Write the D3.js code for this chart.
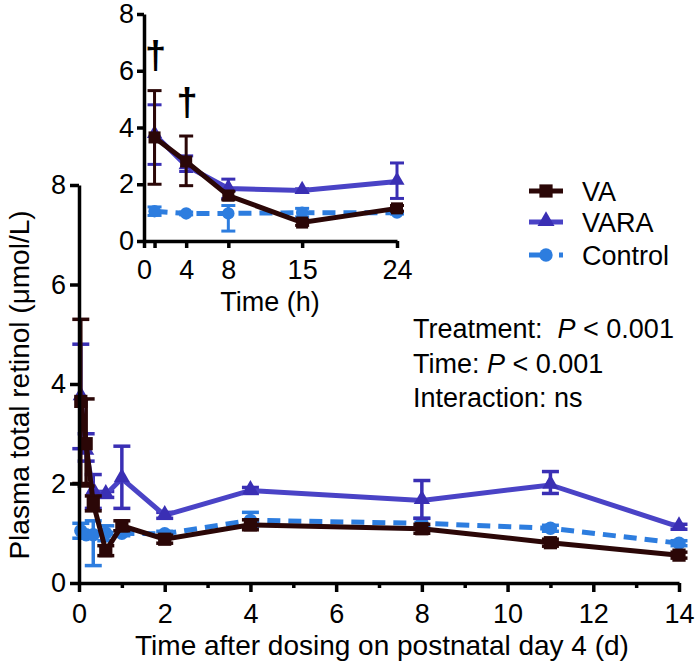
<!DOCTYPE html>
<html>
<head>
<meta charset="utf-8">
<script src="https://cdn.jsdelivr.net/npm/d3@7"></script>
<style>
  html, body { margin: 0; padding: 0; background: #fff; }
  svg { display: block; }
  text { font-family: "Liberation Sans", Arial, Helvetica, sans-serif; fill: #000; }
</style>
</head>
<body>
<svg id="chart" width="697" height="670"></svg>
<script>
// ---- data ----
const timeDays  = [0.042, 0.167, 0.333, 0.625, 1, 2, 4, 8, 11, 14];
const timeHours = [1, 4, 8, 15, 24];          // first five points, in hours (inset)
const vaMean    = [3.65, 2.8, 1.6, 0.65, 1.15, 0.88, 1.17, 1.09, 0.81, 0.56];
const vaLo      = [2.0, 1.95, 1.45, 0.55, 1.05, 0.80, 1.07, 1.00, 0.74, 0.50];
const vaHi      = [5.3, 3.7, 1.75, 0.75, 1.25, 0.96, 1.27, 1.18, 0.88, 0.62];
const varaMean  = [3.75, 2.65, 1.85, 1.78, 2.1, 1.36, 1.86, 1.66, 1.97, 1.13];
const varaLo    = [2.7, 2.45, 1.5, 1.72, 1.5, 1.30, 1.80, 1.30, 1.80, 1.08];
const varaHi    = [4.8, 3.0, 2.18, 1.84, 2.75, 1.42, 1.92, 2.06, 2.24, 1.18];
const ctrlMean  = [1.05, 0.97, 0.97, 1.0, 1.0, 0.99, 1.26, 1.2, 1.1, 0.8];
const ctrlLo    = [0.9, 0.92, 0.35, 0.85, 0.95, 0.94, 1.10, 1.12, 1.04, 0.75];
const ctrlHi    = [1.2, 1.02, 1.25, 1.15, 1.05, 1.04, 1.42, 1.30, 1.16, 0.85];
const seriesNames = ["VA", "VARA", "Control"];
const mainXTicks = [0, 2, 4, 6, 8, 10, 12, 14];
const mainXMinor = [1, 3, 5, 7, 9, 11, 13];
const mainYTicks = [0, 2, 4, 6, 8];
const insetXTicks = [0, 1, 4, 8, 15, 24];
const insetXLabels = ["0", "", "4", "8", "15", "24"];
const insetYTicks = [0, 2, 4, 6, 8];
const daggerHours = [1, 4];
const daggerValues = [6.1, 4.45];
const statLines = [
  ["Treatment:  ", "P", " < 0.001"],
  ["Time: ", "P", " < 0.001"],
  ["Interaction: ns", "", ""]
];

// ---- style ----
const colors = { VA: "#2b0707", VARA: "#4a43c6", Control: "#2d7ddf" };
const markerColors = { VA: "#2b0707", VARA: "#3a2fb4", Control: "#2d7ddf" };
const FONT = 27;

const svg = d3.select("#chart");

const series = [
  { name: "Control", mean: ctrlMean, lo: ctrlLo, hi: ctrlHi, shape: d3.symbolCircle, dash: "13,8" },
  { name: "VARA", mean: varaMean, lo: varaLo, hi: varaHi, shape: d3.symbolTriangle, dash: null },
  { name: "VA", mean: vaMean, lo: vaLo, hi: vaHi, shape: d3.symbolSquare, dash: null }
];

function drawPanel(g, xs, ys, times, n, opts) {
  series.forEach(s => {
    const pts = d3.range(n).map(i => ({ t: times[i], m: s.mean[i], lo: s.lo[i], hi: s.hi[i] }));
    const sg = g.append("g");
    // error bars
    pts.forEach(p => {
      const cx = xs(p.t);
      sg.append("line").attr("x1", cx).attr("x2", cx).attr("y1", ys(p.lo)).attr("y2", ys(p.hi))
        .attr("stroke", markerColors[s.name]).attr("stroke-width", opts.ebw);
      [p.lo, p.hi].forEach(v => {
        sg.append("line").attr("x1", cx - opts.cap / 2).attr("x2", cx + opts.cap / 2)
          .attr("y1", ys(v)).attr("y2", ys(v))
          .attr("stroke", markerColors[s.name]).attr("stroke-width", opts.ebw);
      });
    });
    // line
    sg.append("path").datum(pts)
      .attr("d", d3.line().x(p => xs(p.t)).y(p => ys(p.m)))
      .attr("fill", "none").attr("stroke", colors[s.name]).attr("stroke-width", opts.lw)
      .attr("stroke-dasharray", s.dash);
    // markers
    const size = s.shape === d3.symbolSquare ? opts.sq : s.shape === d3.symbolTriangle ? opts.tri : opts.circ;
    sg.selectAll(null).data(pts).join("path")
      .attr("transform", p => `translate(${xs(p.t)},${ys(p.m) + (s.shape === d3.symbolTriangle ? -1 : 0)})`)
      .attr("d", d3.symbol().type(s.shape).size(size))
      .attr("fill", markerColors[s.name]);
  });
}

// ---- main chart ----
const x = d3.scaleLinear().domain([0, 14]).range([79, 679]);
const y = d3.scaleLinear().domain([0, 8]).range([583, 185]);

const main = svg.append("g");
drawPanel(main, x, y, timeDays, timeDays.length, { lw: 5, ebw: 3.5, cap: 17, sq: 175, tri: 115, circ: 140 });

const xAxis = main.append("g").attr("transform", `translate(0,${y(0)})`)
  .call(d3.axisBottom(x).tickValues(mainXTicks).tickSize(9).tickSizeOuter(0).tickPadding(12).tickFormat(d3.format("d")));
const xMinor = main.append("g").attr("transform", `translate(0,${y(0)})`)
  .call(d3.axisBottom(x).tickValues(mainXMinor).tickSize(5).tickSizeOuter(0).tickFormat(""));
xMinor.select(".domain").remove();
const yAxis = main.append("g").attr("transform", `translate(${x(0)},0)`)
  .call(d3.axisLeft(y).tickValues(mainYTicks).tickSize(9).tickSizeOuter(0).tickPadding(4).tickFormat(d3.format("d")));

[xAxis, xMinor, yAxis].forEach(a => {
  a.selectAll("path.domain").attr("stroke", "#000").attr("stroke-width", 3.5);
  a.selectAll(".tick line").attr("stroke", "#000").attr("stroke-width", 3.5);
  a.selectAll(".tick text").style("font-size", FONT + "px").style("font-family", "Liberation Sans, Arial, sans-serif").attr("fill", "#000");
});

svg.append("text").attr("x", 382).attr("y", 655).attr("text-anchor", "middle")
  .style("font-size", "28px").text("Time after dosing on postnatal day 4 (d)");
svg.append("text").attr("transform", "translate(29,385) rotate(-90)").attr("text-anchor", "middle")
  .style("font-size", "28px").text("Plasma total retinol (\u03bcmol/L)");

// ---- inset ----
const xi = d3.scaleLinear().domain([0, 24]).range([144, 397]);
const yi = d3.scaleLinear().domain([0, 8]).range([241, 14]);
const inset = svg.append("g");
drawPanel(inset, xi, yi, timeHours, timeHours.length, { lw: 5, ebw: 3, cap: 14, sq: 145, tri: 100, circ: 120 });

const ixAxis = inset.append("g").attr("transform", `translate(0,${yi(0)})`)
  .call(d3.axisBottom(xi).tickValues(insetXTicks).tickSize(7).tickSizeOuter(0).tickPadding(12)
    .tickFormat((d, i) => insetXLabels[i]));
const iyAxis = inset.append("g").attr("transform", `translate(${xi(0)},0)`)
  .call(d3.axisLeft(yi).tickValues(insetYTicks).tickSize(7).tickSizeOuter(0).tickPadding(3).tickFormat(d3.format("d")));
[ixAxis, iyAxis].forEach(a => {
  a.selectAll("path.domain").attr("stroke", "#000").attr("stroke-width", 3.5);
  a.selectAll(".tick line").attr("stroke", "#000").attr("stroke-width", 3.5);
  a.selectAll(".tick text").style("font-size", FONT + "px").style("font-family", "Liberation Sans, Arial, sans-serif").attr("fill", "#000");
});
svg.append("text").attr("x", 270).attr("y", 311).attr("text-anchor", "middle")
  .style("font-size", FONT + "px").text("Time (h)");

// daggers
daggerHours.forEach((h, i) => {
  svg.append("text").attr("x", xi(h) + 1).attr("y", yi(daggerValues[i])).attr("text-anchor", "middle")
    .style("font-size", "38px").style("font-weight", "bold").text("\u2020");
});

// ---- legend ----
const legendY = [191, 222, 255];
const legendOrder = ["VA", "VARA", "Control"];
const shapeOf = { VA: d3.symbolSquare, VARA: d3.symbolTriangle, Control: d3.symbolCircle };
const legSize = { VA: 175, VARA: 125, Control: 140 };
legendOrder.forEach((nm, i) => {
  const ly = legendY[i];
  svg.append("line").attr("x1", 529).attr("x2", 563).attr("y1", ly).attr("y2", ly)
    .attr("stroke", colors[nm]).attr("stroke-width", 5)
    .attr("stroke-dasharray", nm === "Control" ? "12,18,4" : null);
  svg.append("path").attr("transform", `translate(546,${ly + (nm === "VARA" ? -1 : 0)})`)
    .attr("d", d3.symbol().type(shapeOf[nm]).size(legSize[nm])).attr("fill", markerColors[nm]);
  svg.append("text").attr("x", 582).attr("y", ly).attr("dy", "0.36em")
    .style("font-size", FONT + "px").text(seriesNames[i]);
});

// ---- stats text ----
const statY = [338, 373, 407];
statLines.forEach((ln, i) => {
  const t = svg.append("text").attr("x", 413).attr("y", statY[i]).style("font-size", FONT + "px")
    .attr("xml:space", "preserve").style("white-space", "pre");
  t.append("tspan").text(ln[0]);
  if (ln[1]) t.append("tspan").style("font-style", "italic").text(ln[1]);
  if (ln[2]) t.append("tspan").text(ln[2]);
});
</script>
</body>
</html>
